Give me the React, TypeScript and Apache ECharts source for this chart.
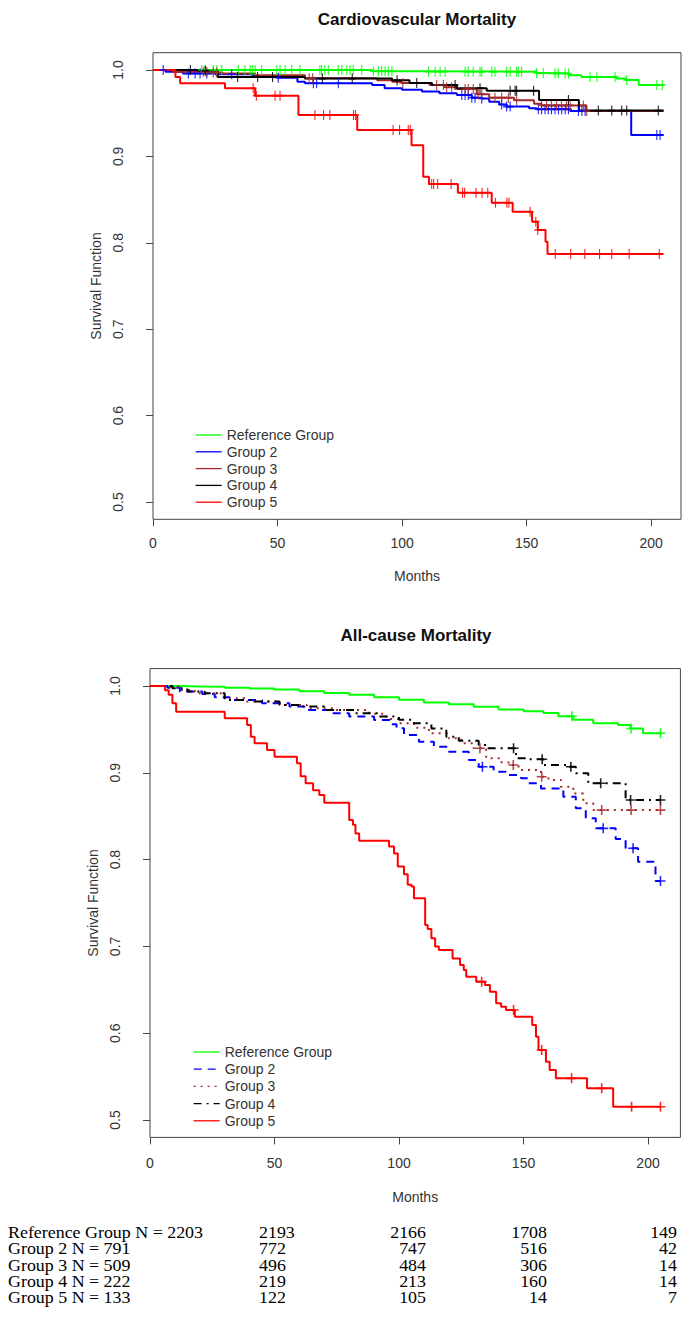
import React, { useEffect, useRef } from "react";
import * as echarts from "echarts";

// ---------- data ----------
const groups = ["Reference Group", "Group 2", "Group 3", "Group 4", "Group 5"];
const xTicks = [0, 50, 100, 150, 200];
const yTicks = [0.5, 0.6, 0.7, 0.8, 0.9, 1.0];

// Cardiovascular mortality: Kaplan-Meier steps [month, survival]
const cvReference = [[0, 1.0], [88, 0.9985], [104, 0.998], [154, 0.9965], [157, 0.996], [167, 0.994], [172, 0.992], [186, 0.99], [190, 0.9885], [195, 0.9826], [205, 0.9826]];
const cvGroup2 = [[0, 1.0], [5, 0.998], [12, 0.996], [25, 0.995], [40, 0.993], [50, 0.991], [58, 0.9865], [61, 0.9846], [88, 0.9826], [93, 0.979], [100, 0.977], [108, 0.975], [115, 0.973], [122, 0.971], [128, 0.968], [132, 0.967], [135, 0.9633], [139, 0.96], [142, 0.9576], [151, 0.9556], [154, 0.9545], [167.5, 0.9525], [192, 0.9248], [205, 0.9248]];
const cvGroup3 = [[0, 1.0], [8, 0.998], [22, 0.997], [28, 0.996], [41, 0.994], [61, 0.9905], [90, 0.988], [96, 0.9865], [100, 0.985], [111, 0.9826], [117, 0.98], [122, 0.978], [130, 0.972], [135, 0.968], [145, 0.965], [153, 0.961], [156, 0.959], [174, 0.9525], [205, 0.9525]];
const cvGroup4 = [[0, 1.0], [18, 0.999], [26, 0.992], [61, 0.99], [96, 0.988], [103, 0.985], [112, 0.9826], [122, 0.979], [134, 0.976], [155, 0.9653], [171, 0.953], [205, 0.953]];
const cvGroup5 = [[0, 1.0], [9, 0.992], [10.9, 0.9846], [28.9, 0.9788], [41, 0.9703], [58.4, 0.948], [82, 0.9306], [103.8, 0.913], [108.5, 0.8765], [110.8, 0.868], [122.4, 0.858], [136, 0.8464], [144.4, 0.836], [152.2, 0.8245], [154.5, 0.8148], [157.6, 0.8013], [158.4, 0.787], [205, 0.787]];

// censoring times (months)
const cvReferenceCensor = [19.5, 20.9, 24.2, 25.6, 27.6, 34.3, 36.9, 39, 39.9, 41, 43.6, 49.7, 51, 53, 55.7, 59, 67, 67.7, 69, 70.4, 74.4, 75.8, 77.8, 79.1, 80.4, 83.8, 88.5, 90.5, 91.8, 93.2, 94.5, 95.9, 110.6, 113.3, 115.3, 117.3, 125.3, 126.6, 128.6, 131.3, 132, 136, 137.3, 142, 143.4, 146, 146.7, 148, 154, 156.7, 161.4, 162.8, 165.5, 166.8, 175.5, 178.2, 185.5, 190.2, 202.3, 204.5];
const cvGroup2Censor = [4.1, 14.2, 16.9, 18.9, 21.6, 31.6, 50.3, 64.4, 65.7, 74.4, 124, 125.3, 126.6, 128, 129.3, 132, 140, 142, 143.4, 154.7, 156, 157.4, 158.7, 160, 161.4, 162.8, 164.1, 165.5, 166.8, 170.8, 172.2, 173.5, 202.3, 203.6];
const cvGroup3Censor = [20.2, 21.6, 24.2, 25.6, 62.7, 64.1, 100.3, 113.9, 116.6, 117.9, 119.9, 125.3, 126.6, 128.6, 130.6, 132, 137.3, 140, 142.7, 146, 156, 158, 160, 162, 164, 166, 167.5, 172.8, 174.1];
const cvGroup4Censor = [15, 21, 34, 42, 48, 68, 80, 98, 105.9, 121.3, 131.3, 143.4, 145.4, 146, 152.8, 166.8, 178.8, 184.2, 188.2, 190.2, 202.9];
const cvGroup5Censor = [40.2, 41.5, 49, 51, 65, 68.5, 71, 80.5, 81.3, 96.4, 99, 102.5, 103.3, 111.9, 112.7, 114.3, 119.7, 124.3, 125.1, 129.7, 132.1, 134.4, 137.5, 142.1, 142.9, 151.4, 153.7, 154.5, 161.5, 167.7, 173.4, 179.3, 184.2, 191.2, 203.3];

// All-cause mortality
const acReference = [[0, 1.0], [12, 0.9995], [20, 0.999], [30, 0.998], [40, 0.997], [50, 0.996], [60, 0.994], [70, 0.992], [80, 0.99], [90, 0.987], [100, 0.984], [110, 0.981], [120, 0.979], [130, 0.976], [140, 0.973], [150, 0.971], [158, 0.969], [164, 0.965], [170, 0.961], [178, 0.957], [188, 0.955], [193, 0.951], [198, 0.9455], [205, 0.9455]];
const acGroup2 = [[0, 1.0], [7, 0.998], [12, 0.9935], [21, 0.9908], [26, 0.987], [32, 0.9839], [45, 0.98], [56, 0.9762], [62, 0.9724], [72, 0.9685], [80, 0.9647], [90, 0.9608], [97, 0.956], [99, 0.9512], [102, 0.9435], [108, 0.9358], [114, 0.93], [120, 0.9243], [128, 0.9147], [132, 0.907], [138, 0.9013], [143, 0.8975], [149, 0.8937], [152, 0.888], [157, 0.882], [166, 0.8725], [171, 0.859], [175, 0.8476], [179, 0.836], [187, 0.8237], [191, 0.813], [196, 0.7976], [203, 0.7753], [205, 0.7753]];
const acGroup3 = [[0, 1.0], [8, 0.999], [12, 0.9954], [18, 0.9916], [30, 0.9858], [38, 0.982], [52, 0.9781], [63, 0.9743], [74, 0.9724], [88, 0.968], [95, 0.962], [100, 0.957], [106, 0.952], [112, 0.9455], [120, 0.9397], [125, 0.934], [130, 0.9282], [135, 0.9167], [141, 0.912], [144, 0.909], [148, 0.9032], [157, 0.8955], [160, 0.8917], [165, 0.884], [170, 0.876], [174, 0.8648], [178, 0.857], [205, 0.857]];
const acGroup4 = [[0, 1.0], [9, 0.9973], [15, 0.9935], [22, 0.9916], [30, 0.9839], [42, 0.982], [52, 0.9781], [61, 0.9762], [70, 0.9724], [82, 0.9685], [92, 0.9647], [100, 0.961], [106, 0.957], [113, 0.951], [119, 0.9416], [124, 0.937], [132, 0.932], [135, 0.9282], [147, 0.9167], [151, 0.9155], [158, 0.909], [168, 0.907], [171, 0.8994], [176, 0.8879], [191, 0.8687], [205, 0.8687]];
const acGroup5 = [[0, 1.0], [6, 0.995], [7.5, 0.99], [9, 0.98], [10.5, 0.9704], [30, 0.9628], [39, 0.955], [40.5, 0.9416], [42, 0.934], [47, 0.9263], [50, 0.9186], [59, 0.911], [60.5, 0.896], [62.5, 0.888], [65.5, 0.88], [68, 0.8744], [70, 0.8656], [80, 0.8456], [81.5, 0.84], [82.5, 0.83], [84, 0.8218], [96, 0.815], [98, 0.807], [99.5, 0.792], [102, 0.783], [103.5, 0.771], [105, 0.769], [106, 0.7554], [110.5, 0.7247], [111.5, 0.72], [113, 0.7093], [114.5, 0.7], [116, 0.6959], [121.5, 0.6862], [124.5, 0.6786], [126, 0.6728], [127, 0.6651], [131, 0.6594], [134.5, 0.6555], [136.5, 0.6478], [139, 0.6344], [141, 0.6306], [143, 0.6267], [146.5, 0.619], [153.5, 0.6094], [155, 0.596], [156, 0.5806], [159, 0.5672], [160.5, 0.5576], [163, 0.548], [175.5, 0.5365], [186, 0.5153], [205, 0.5153]];

const acReferenceCensor = [169.4, 193.2, 205];
const acGroup2Censor = [133.5, 182, 194, 205];
const acGroup3Censor = [132.5, 145.9, 157.3, 181.4, 193.2, 205];
const acGroup4Censor = [146, 157.5, 169, 181, 193, 205];
const acGroup5Censor = [133.2, 146, 157.3, 169.3, 181.4, 193.4, 205];

// numbers at risk table
const tableLabels = ["Reference Group N = 2203", "Group 2 N = 791", "Group 3 N = 509", "Group 4 N = 222", "Group 5 N = 133"];
const atRisk50 = [2193, 772, 496, 219, 122];
const atRisk100 = [2166, 747, 484, 213, 105];
const atRisk150 = [1708, 516, 306, 160, 14];
const atRisk200 = [149, 42, 14, 14, 7];

// ---------- styling ----------
const SANS = "'Liberation Sans', Arial, sans-serif";
const SERIF = "'Liberation Serif', 'Times New Roman', serif";
const COLORS = ["#00FF00", "#0000FF", "#A52A2A", "#000000", "#FF0000"];
const AC_DASH: any[] = ["solid", [8, 6], [2, 5], [8, 5, 2, 5], "solid"];
const PLUS = "path://M0,4.2H4.2V0H5.8V4.2H10V5.8H5.8V10H4.2V5.8H0Z";
const TEXT = "#333";
const BOX = "#444";

function stepAt(curve: number[][], t: number) {
  let v = curve[0][1];
  for (const p of curve) {
    if (p[0] <= t) v = p[1];
    else break;
  }
  return v;
}

function buildOption() {
  const cvC = [cvReference, cvGroup2, cvGroup3, cvGroup4, cvGroup5];
  const cvCens = [cvReferenceCensor, cvGroup2Censor, cvGroup3Censor, cvGroup4Censor, cvGroup5Censor];
  const acC = [acReference, acGroup2, acGroup3, acGroup4, acGroup5];
  const acCens = [acReferenceCensor, acGroup2Censor, acGroup3Censor, acGroup4Censor, acGroup5Censor];

  const series: any[] = [];
  const charts = [
    { prefix: "CV: ", curves: cvC, cens: cvCens, grid: 0, dash: ["solid", "solid", "solid", "solid", "solid"], plusSize: [7, 10] },
    { prefix: "AC: ", curves: acC, cens: acCens, grid: 1, dash: AC_DASH, plusSize: [10, 10] },
  ];
  charts.forEach((c) => {
    groups.forEach((g, i) => {
      series.push({
        type: "line",
        name: c.prefix + g,
        xAxisIndex: c.grid,
        yAxisIndex: c.grid,
        data: c.curves[i],
        step: "end",
        symbol: "none",
        silent: true,
        z: 2 + i,
        lineStyle: { color: COLORS[i], width: 2, type: c.dash[i] },
        itemStyle: { color: COLORS[i] },
        emphasis: { disabled: true },
      });
    });
    groups.forEach((g, i) => {
      series.push({
        type: "scatter",
        name: c.prefix + g + " (censored)",
        xAxisIndex: c.grid,
        yAxisIndex: c.grid,
        data: c.cens[i].map((t) => [t, stepAt(c.curves[i], t)]),
        symbol: PLUS,
        symbolSize: c.plusSize,
        silent: true,
        z: 8,
        itemStyle: { color: COLORS[i], opacity: 0.85 },
        emphasis: { disabled: true },
      });
    });
  });

  const labelStyle = { fontFamily: SANS, fontSize: 14, color: TEXT };
  const mkX = (gridIndex: number, max: number, margin: number, nameGap: number) => ({
    gridIndex,
    type: "value",
    min: 0,
    max,
    axisLine: { show: false },
    axisTick: { show: true, length: 7, customValues: xTicks, lineStyle: { color: BOX, width: 1 } },
    axisLabel: { ...labelStyle, customValues: xTicks, margin },
    splitLine: { show: false },
    name: "Months",
    nameLocation: "middle",
    nameGap,
    nameTextStyle: labelStyle,
  });
  const mkY = (gridIndex: number) => ({
    gridIndex,
    type: "value",
    min: 0.48,
    max: 1.02,
    axisLine: { show: false },
    axisTick: { show: true, length: 7, customValues: yTicks, lineStyle: { color: BOX, width: 1 } },
    axisLabel: { ...labelStyle, customValues: yTicks, rotate: 90, margin: 28, formatter: (v: number) => v.toFixed(1) },
    splitLine: { show: false },
    name: "Survival Function",
    nameLocation: "middle",
    nameGap: 48,
    nameRotate: 90,
    nameTextStyle: labelStyle,
  });

  const mkLegend = (prefix: string, left: number, top: number, gap: number) => ({
    data: groups.map((g) => prefix + g),
    formatter: (n: string) => n.replace(prefix, ""),
    orient: "vertical",
    left,
    top,
    padding: 0,
    itemWidth: 26,
    itemHeight: 14,
    itemGap: gap,
    selectedMode: false,
    itemStyle: { opacity: 0 },
    lineStyle: { width: 1.3 },
    textStyle: { fontFamily: SANS, fontSize: 14, color: TEXT },
  });

  const graphic: any[] = [];
  const rowY = (i: number) => 1233 + i * 16.3;
  const tstyle = (text: string, align: string) => ({ text, fontFamily: SERIF, fontSize: 16, lineHeight: 15, fill: "#000", align, verticalAlign: "middle" });
  const cell = (x: number, i: number, text: string, align: string) => ({
    type: "text",
    x,
    y: rowY(i),
    scaleX: 1.12,
    silent: true,
    style: tstyle(text, align),
  });
  tableLabels.forEach((lab, i) => {
    graphic.push(cell(8, i, lab, "left"));
    graphic.push(cell(259, i, String(atRisk50[i]), "left"));
    graphic.push(cell(426, i, String(atRisk100[i]), "right"));
    graphic.push(cell(547, i, String(atRisk150[i]), "right"));
    graphic.push(cell(677, i, String(atRisk200[i]), "right"));
  });

  return {
    animation: false,
    backgroundColor: "#ffffff",
    title: [
      { text: "Cardiovascular Mortality", left: 417, top: 11, textAlign: "center", padding: 0, textStyle: { fontFamily: SANS, fontWeight: "bold", fontSize: 17, color: "#111" } },
      { text: "All-cause Mortality", left: 416, top: 627, textAlign: "center", padding: 0, textStyle: { fontFamily: SANS, fontWeight: "bold", fontSize: 17, color: "#111" } },
    ],
    grid: [
      { left: 153, top: 52.7, width: 528, height: 466.6, show: true, borderColor: BOX, borderWidth: 1, backgroundColor: "transparent", containLabel: false, outerBoundsMode: "none" },
      { left: 150, top: 668.6, width: 530.4, height: 468.8, show: true, borderColor: BOX, borderWidth: 1, backgroundColor: "transparent", containLabel: false, outerBoundsMode: "none" },
    ],
    xAxis: [mkX(0, 212, 17, 50), mkX(1, 213, 19, 53)],
    yAxis: [mkY(0), mkY(1)],
    legend: [mkLegend("CV: ", 195, 428, 2.8), mkLegend("AC: ", 193, 1045, 3.2)],
    series,
    graphic,
  };
}

export default function App() {
  const ref = useRef<HTMLDivElement>(null);
  useEffect(() => {
    if (!ref.current) return;
    const chart = echarts.init(ref.current, undefined, { renderer: "svg", width: 682, height: 1322 });
    chart.setOption(buildOption() as any);
    return () => chart.dispose();
  }, []);
  return (
    <div
      ref={ref}
      style={{ position: "absolute", left: 0, top: 0, width: 682, height: 1322, background: "#fff" }}
    />
  );
}
